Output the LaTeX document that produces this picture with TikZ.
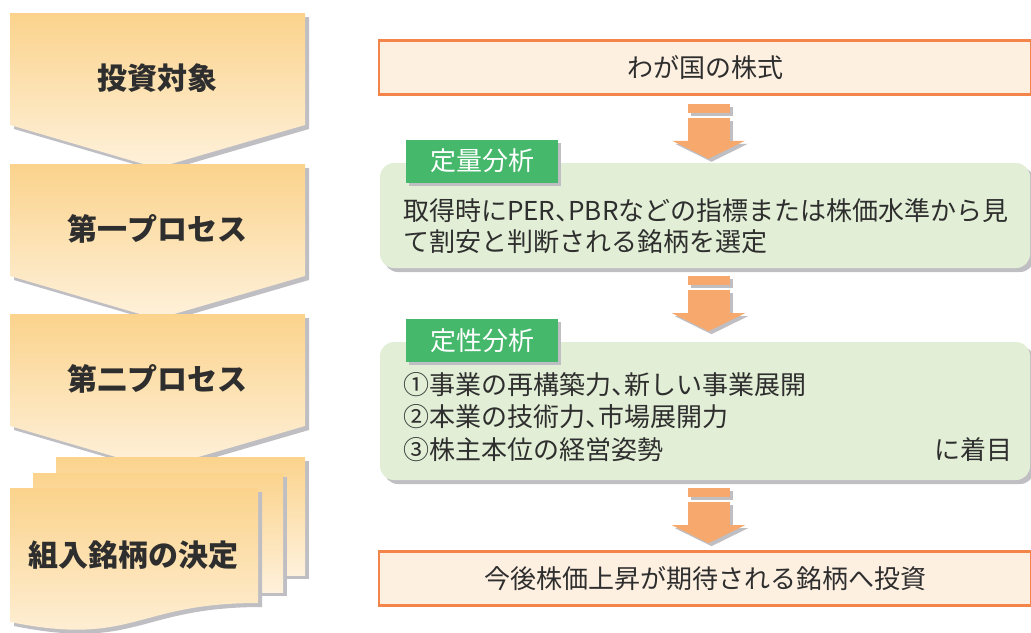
\documentclass[tikz,border=0pt]{standalone}
\usepackage{fontspec}
\setmainfont{Noto Sans CJK JP}
\usepackage{tikz}
\usetikzlibrary{calc,positioning,shadows}
\definecolor{chevtop}{HTML}{FBD38C}
\definecolor{chevbot}{HTML}{FEF1DB}
\definecolor{shadowgray}{HTML}{BFBFC3}
\definecolor{boxorange}{HTML}{F3844A}
\definecolor{boxfill}{HTML}{FDF0E1}
\definecolor{arroworange}{HTML}{F7A86C}
\definecolor{taggreen}{HTML}{45B86B}
\definecolor{boxgreen}{HTML}{E2EFD6}
\definecolor{inktext}{HTML}{2E2E2E}
\newcommand{\halfcomma}{{\addfontfeatures{RawFeature=+halt}、}}
\tikzset{%
	grayshadow/.style = {drop shadow={fill=shadowgray, opacity=1, shadow xshift=4pt, shadow yshift=-4pt}},
	chevron/.style    = {top color=chevtop, bottom color=chevbot, grayshadow}, % left process shapes
	chevtext/.style   = {text=inktext, font=\fontsize{30}{36}\selectfont\bfseries},
	stockbox/.style   = {draw=boxorange, fill=boxfill, line width=2.5pt, minimum width=652, minimum height=54, text=inktext, font=\fontsize{26}{32}\selectfont},
	greenbox/.style   = {fill=boxgreen, rounded corners=14, minimum width=650, grayshadow},
	tagbox/.style     = {fill=taggreen, minimum width=152, minimum height=43, text=white, font=\fontsize{26}{32}\selectfont, drop shadow={fill=shadowgray, opacity=1, shadow xshift=3pt, shadow yshift=-3pt}},
	bodytext/.style   = {anchor=west, inner sep=0, text=inktext, font=\fontsize{26}{32}\selectfont},
	blockarrow/.style = {fill=arroworange, drop shadow={fill=shadowgray, opacity=1, shadow xshift=3pt, shadow yshift=-3pt}},
}

\begin{document}
\begin{tikzpicture}[x=1pt,y=-1pt]
	\useasboundingbox (0,0) rectangle (1031,632);
	
	% left column
	\foreach \t/\lbl/\name in {13/投資対象/target, 164/第一プロセス/first, 314/第二プロセス/second}{
		\shade[chevron] (10,\t) -- (305,\t) -- (305,\t+112) -- (157,\t+155) -- (10,\t+112) -- cycle;
		\node[chevtext] (\name) at (157,\t+65) {\lbl};
	}
	\shade[chevron] (56,457) rectangle (305,575);
	\shade[chevron] (33,473) rectangle (283,592);
	\shade[chevron] (10,488) -- (258,488) -- (258,603) .. controls (134,603) and (134,647) .. (10,622) -- cycle;
	\node[chevtext] (decide) at (133,555) {組入銘柄の決定};
	
	% right column
	\node[stockbox] (stock) at (705,67.5) {わが国の株式};
	\node[greenbox, minimum height=105] (quant) at (705,215.5) {};
	\node[tagbox] (quanttag) at (482,161) {定量分析};
	\node[bodytext] (quant1) at (403,211) {取得時にPER\halfcomma PBRなどの指標または株価水準から見};
	\node[bodytext] (quant2) at (403,242) {て割安と判断される銘柄を選定};
	\node[greenbox, minimum height=138] (qual) at (705,411) {};
	\node[tagbox] (qualtag) at (482,340.5) {定性分析};
	\node[bodytext] (qual1) at (403,385) {①事業の再構築力\halfcomma 新しい事業展開};
	\node[bodytext] (qual2) at (403,417) {②本業の技術力\halfcomma 市場展開力};
	\node[bodytext] (qual3) at (403,450) {③株主本位の経営姿勢};
	\node[bodytext, anchor=east] (focus) at (1013,450) {に着目};
	\node[stockbox] (invest) at (705,578.5) {今後株価上昇が期待される銘柄へ投資};
	
	\foreach \from in {stock,quant,qual}{
		\begin{scope}[shift={($(\from.south)+(3.5,8)$)}]
			\fill[blockarrow] (-21,0) rectangle (21,9);
			\fill[blockarrow] (-21,14) rectangle (21,37);
			\fill[blockarrow] (-36.5,37) -- (36.5,37) -- (0,55) -- cycle;
		\end{scope}
	}
\end{tikzpicture}
\end{document}
